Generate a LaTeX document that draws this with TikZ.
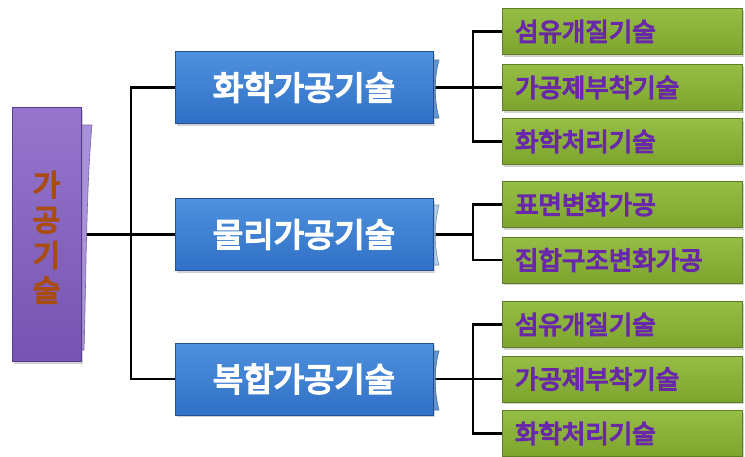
\documentclass[tikz,border=0pt]{standalone}
\usepackage{fontspec}
\newfontfamily\kr{Noto Sans CJK KR}[FakeBold=5]
\usetikzlibrary{backgrounds,shadows}
\definecolor{purpL}{RGB}{150,118,205}
\definecolor{purpM}{RGB}{118,84,178}
\definecolor{purpD}{RGB}{90,60,140}
\definecolor{purpT}{RGB}{170,145,220}
\definecolor{blueL}{RGB}{78,145,222}
\definecolor{blueM}{RGB}{48,112,198}
\definecolor{blueD}{RGB}{35,80,145}
\definecolor{blueT}{RGB}{95,150,215}
\definecolor{blueT2}{RGB}{175,205,240}
\definecolor{greenL}{RGB}{150,190,70}
\definecolor{greenM}{RGB}{125,165,45}
\definecolor{greenD}{RGB}{95,125,35}
\definecolor{violetTxt}{RGB}{105,40,170}
\definecolor{brownTxt}{RGB}{170,75,15}
\begin{document}
\begin{tikzpicture}[x=1pt,y=-1pt,
  shd/.style={drop shadow={shadow xshift=2pt,shadow yshift=-2pt,opacity=0.35}},
  pbox/.style={draw=purpD,line width=0.8pt,top color=purpL,bottom color=purpM,
    minimum width=69pt,minimum height=254pt,inner sep=0pt,shd,text=brownTxt,
    font=\kr\fontsize{30}{35}\selectfont},
  bbox/.style={draw=blueD,line width=0.8pt,top color=blueL,bottom color=blueM,
    minimum width=258pt,minimum height=72pt,inner sep=0pt,shd,text=white,
    font=\kr\fontsize{33}{36}\selectfont},
  gbox/.style={draw=greenD,line width=0.8pt,top color=greenL,bottom color=greenM,
    minimum height=46pt,text width=214pt,inner xsep=13pt,inner ysep=0pt,align=left,shd,
    text=violetTxt,font=\kr\fontsize{25.5}{28}\selectfont},
  tab/.style={draw=#1!70!black,line width=0.6pt,fill=#1},
  conn/.style={draw=black,line width=2.5pt}]
\useasboundingbox (0,0) rectangle (745,456);
% folded tabs behind boxes
\path[tab=purpT] (68,125) -- (92,125) .. controls (86,190) and (86,290) .. (84,350) -- (68,350) -- cycle;
\path[tab=blueT] (425,60) -- (439,60) .. controls (434,78) and (434,100) .. (439,118) -- (425,118) -- cycle;
\path[tab=blueT2] (425,205) -- (439,205) .. controls (434,225) and (434,246) .. (439,265) -- (425,265) -- cycle;
\path[tab=blueT] (425,351) -- (439,351) .. controls (434,368) and (434,392) .. (439,410) -- (425,410) -- cycle;
% main nodes
\node[pbox] (p) at (46.5,234.5) {\raisebox{-7pt}[\height][\depth]{\begin{tabular}{@{}c@{}}가\\공\\기\\술\end{tabular}}};
\node[bbox] (b1) at (304,87.5) {화학가공기술};
\node[bbox] (b2) at (304,234.5) {물리가공기술};
\node[bbox] (b3) at (304,379) {복합가공기술};
\node[gbox] (gA) at (622,31.5) {섬유개질기술};
\node[gbox] (gB) at (622,87.5) {가공제부착기술};
\node[gbox] (gC) at (622,141.5) {화학처리기술};
\node[gbox] (gD) at (622,204.5) {표면변화가공};
\node[gbox] (gE) at (622,260) {집합구조변화가공};
\node[gbox] (gF) at (622,324.5) {섬유개질기술};
\node[gbox] (gG) at (622,379) {가공제부착기술};
\node[gbox] (gH) at (622,433.5) {화학처리기술};
\coordinate (j) at (131,234.5);
\coordinate (g1) at (473,87.5);
\coordinate (g2) at (473,234.5);
\coordinate (g3) at (473,379);
\begin{pgfonlayer}{background}
\fill[white] (0,0) rectangle (745,456);
\draw[conn] (p.east) -- (j);
\draw[conn] (b1.west) -| (j) |- (b3.west);
\draw[conn] (j) -- (b2.west);
\draw[conn] (b1.east) -- (g1);
\draw[conn] (gA.west) -| (g1) |- (gC.west);
\draw[conn] (g1) -- (gB.west);
\draw[conn] (b2.east) -- (g2);
\draw[conn] (gD.west) -| (g2) |- (gE.west);
\draw[conn] (b3.east) -- (g3);
\draw[conn] (gF.west) -| (g3) |- (gH.west);
\draw[conn] (g3) -- (gG.west);
\end{pgfonlayer}
\end{tikzpicture}
\end{document}
